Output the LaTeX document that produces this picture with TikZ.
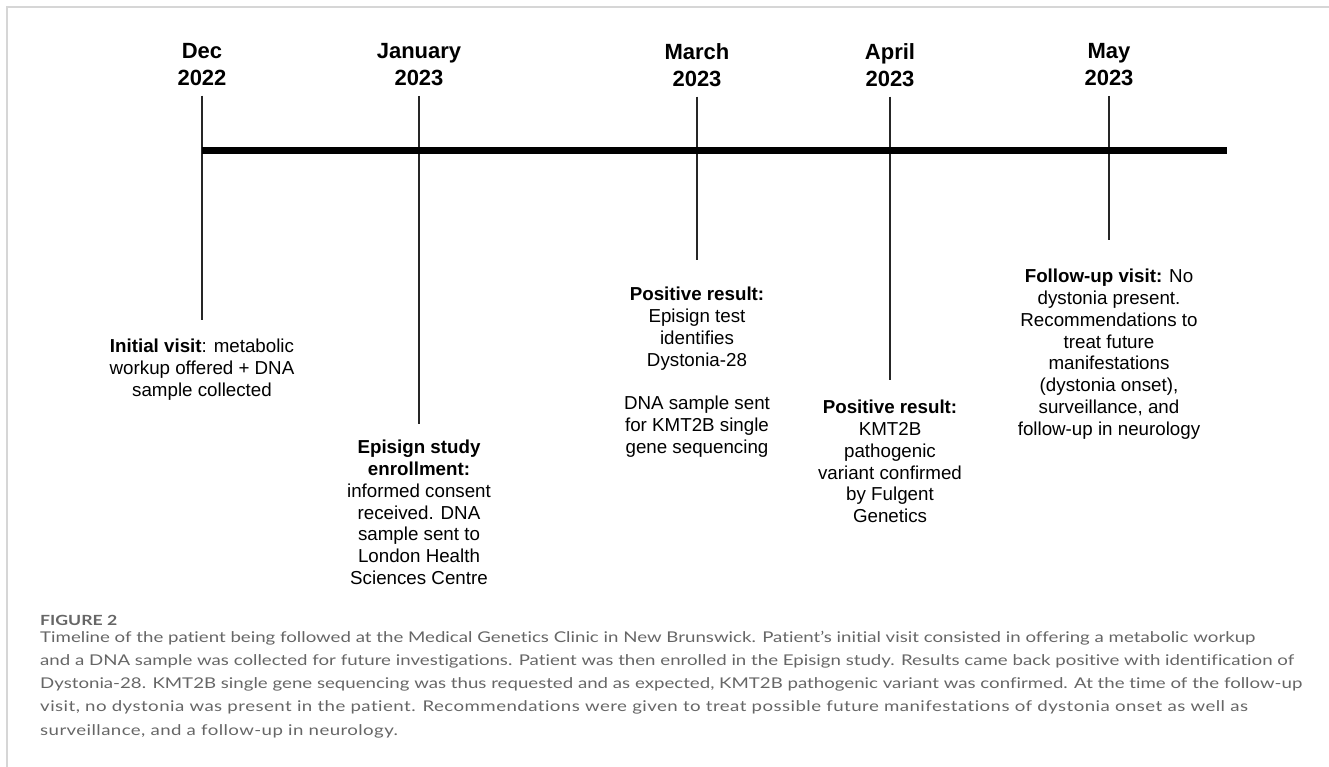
\documentclass[tikz,border=0pt]{standalone}
\usepackage{fontspec}
\setmainfont{Liberation Sans}
\newfontfamily\capfont[FakeStretch=1.26, Ligatures={NoCommon}]{Lato}
\definecolor{framegray}{HTML}{D6D6D6}
\definecolor{capgray}{HTML}{666666}
\begin{document}
\begin{tikzpicture}[x=1pt,y=-1pt,
  month/.style={font=\fontsize{22}{27}\selectfont\bfseries, align=center, anchor=north, inner sep=0pt},
  event/.style={font=\fontsize{18.75}{21.8}\selectfont, align=center, anchor=north, inner sep=0pt},
  tickline/.style={line width=1.4pt, draw=black!85},
  axisline/.style={line width=7pt, draw=black},
  capline/.style={font=\capfont\fontsize{14.8}{23.3}\selectfont, text=capgray, anchor=base west, inner sep=0pt},
  figlab/.style={font=\capfont\fontsize{14}{14}\selectfont\bfseries, text=capgray, anchor=base west, inner sep=0pt}
]
\useasboundingbox (0,0) rectangle (1329,767);
\draw[framegray, line width=1.5pt] (7,767) -- (7,7) -- (1329,7);

% month labels
\node[month] (mDec) at (202,43) {Dec\\2022};
\node[month] (mJan) at (419,43) {January\\2023};
\node[month] (mMar) at (697,43) {March\\2023};
\node[month] (mApr) at (890,43) {April\\2023};
\node[month] (mMay) at (1109,43) {May\\2023};

% axis
\coordinate (axL) at (202,150.5);
\coordinate (axR) at (1227,150.5);

% tick bottoms
\coordinate (bDec) at (202,320);
\coordinate (bJan) at (419,424);
\coordinate (bMar) at (697,260);
\coordinate (bApr) at (890,380);
\coordinate (bMay) at (1109,240);

\draw[tickline] ([yshift=-10pt]mDec.south) -- (bDec);
\draw[tickline] ([yshift=-10pt]mJan.south) -- (bJan);
\draw[tickline] ([yshift=-10pt]mMar.south) -- (bMar);
\draw[tickline] ([yshift=-10pt]mApr.south) -- (bApr);
\draw[tickline] ([yshift=-10pt]mMay.south) -- (bMay);
\draw[axisline] (axL) -- (axR);

% events
\node[event] (eDec) at (202,339) {\textbf{Initial visit}: metabolic\\workup offered + DNA\\sample collected};
\node[event] (eJan) at (419,440) {\textbf{Episign study}\\\textbf{enrollment:}\\informed consent\\received. DNA\\sample sent to\\London Health\\Sciences Centre};
\node[event] (eMar) at (697,287) {\textbf{Positive result:}\\Episign test\\identifies\\Dystonia-28\\[21.8pt]DNA sample sent\\for KMT2B single\\gene sequencing};
\node[event] (eApr) at (890,400) {\textbf{Positive result:}\\KMT2B\\pathogenic\\variant confirmed\\by Fulgent\\Genetics};
\node[event] (eMay) at (1109,269) {\textbf{Follow-up visit:} No\\dystonia present.\\Recommendations to\\treat future\\manifestations\\(dystonia onset),\\surveillance, and\\follow-up in neurology};

% caption
\node[figlab] (fig) at (40,625) {FIGURE 2};
\node[capline] (c1) at (40,642) {Timeline of the patient being followed at the Medical Genetics Clinic in New Brunswick. Patient’s initial visit consisted in offering a metabolic workup};
\node[capline] (c2) at (40,665.3) {and a DNA sample was collected for future investigations. Patient was then enrolled in the Episign study. Results came back positive with identification of};
\node[capline] (c3) at (40,688.6) {Dystonia-28. KMT2B single gene sequencing was thus requested and as expected, KMT2B pathogenic variant was confirmed. At the time of the follow-up};
\node[capline] (c4) at (40,711.9) {\addfontfeature{LetterSpace=3.0}visit, no dystonia was present in the patient. Recommendations were given to treat possible future manifestations of dystonia onset as well as};
\node[capline] (c5) at (40,735.2) {\addfontfeature{LetterSpace=2.8}surveillance, and a follow-up in neurology.};
\end{tikzpicture}
\end{document}
